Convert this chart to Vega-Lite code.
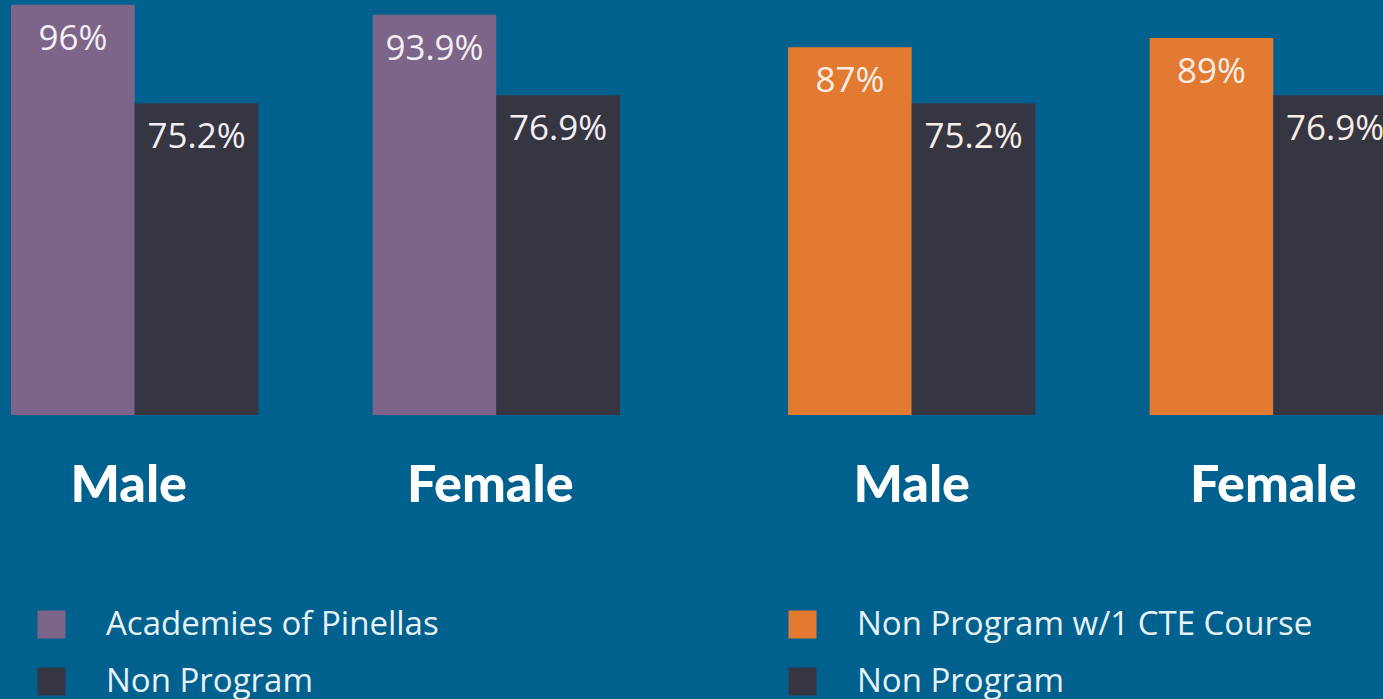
{
  "$schema": "https://vega.github.io/schema/vega-lite/v6.json",
  "background": "#00618f",
  "padding": {"left": 0, "top": 0, "right": 0, "bottom": 20},
  "spacing": 146,
  "bounds": "flush",
  "data": {"values": [
    {"panel": "A", "gender": "Male", "series": "Academies of Pinellas", "value": 96, "label": "96%"},
    {"panel": "A", "gender": "Male", "series": "Non Program", "value": 75.2, "label": "75.2%"},
    {"panel": "A", "gender": "Female", "series": "Academies of Pinellas", "value": 93.9, "label": "93.9%"},
    {"panel": "A", "gender": "Female", "series": "Non Program", "value": 76.9, "label": "76.9%"},
    {"panel": "B", "gender": "Male", "series": "Non Program w/1 CTE Course", "value": 87, "label": "87%"},
    {"panel": "B", "gender": "Male", "series": "Non Program", "value": 75.2, "label": "75.2%"},
    {"panel": "B", "gender": "Female", "series": "Non Program w/1 CTE Course", "value": 89, "label": "89%"},
    {"panel": "B", "gender": "Female", "series": "Non Program", "value": 76.9, "label": "76.9%"}
  ]},
  "hconcat": [
    {
      "width": 631,
      "height": 415,
      "transform": [{"filter": "datum.panel === 'A'"}],
      "encoding": {
        "x": {"field": "gender", "type": "nominal", "sort": ["Male", "Female"],
              "scale": {"paddingInner": 0.316, "paddingOuter": 0.0305},
              "axis": {"title": null, "ticks": false, "domain": false, "labelAngle": 0, "labelFont": "Lato", "labelFontWeight": 900, "labelFontSize": 52, "labelColor": "#ffffff", "labelPadding": 45, "labelBaseline": "top", "labelOffset": -6}},
        "xOffset": {"field": "series", "type": "nominal", "scale": {"domain": ["Academies of Pinellas", "Non Program"], "paddingInner": 0, "paddingOuter": 0}},
        "y": {"field": "value", "type": "quantitative", "scale": {"domain": [9.4, 97], "zero": false, "clamp": true, "nice": false}, "axis": null}
      },
      "layer": [
        {
          "mark": {"type": "bar"},
          "encoding": {
            "color": {"field": "series", "type": "nominal",
                      "scale": {"domain": ["Academies of Pinellas", "Non Program"], "range": ["#7d6589", "#353642"]},
                      "legend": {"title": null, "orient": "none", "legendX": 35, "legendY": 608, "symbolType": "square", "symbolSize": 784, "symbolStrokeWidth": 0, "labelFont": "Open Sans", "labelFontWeight": 400, "labelFontSize": 33, "labelColor": "#e8f1f6", "labelOffset": 38, "labelLimit": 0, "rowPadding": 23, "direction": "vertical"}}
          }
        },
        {
          "mark": {"type": "text", "baseline": "middle", "dy": 34, "font": "Open Sans", "fontWeight": 400, "fontSize": 35, "color": "#f4eef4"},
          "encoding": {"text": {"field": "label"}}
        }
      ]
    },
    {
      "width": 631,
      "height": 415,
      "transform": [{"filter": "datum.panel === 'B'"}],
      "encoding": {
        "x": {"field": "gender", "type": "nominal", "sort": ["Male", "Female"],
              "scale": {"paddingInner": 0.316, "paddingOuter": 0.0305},
              "axis": {"title": null, "ticks": false, "domain": false, "labelAngle": 0, "labelFont": "Lato", "labelFontWeight": 900, "labelFontSize": 52, "labelColor": "#ffffff", "labelPadding": 45, "labelBaseline": "top"}},
        "xOffset": {"field": "series", "type": "nominal", "scale": {"domain": ["Non Program w/1 CTE Course", "Non Program"], "paddingInner": 0, "paddingOuter": 0}},
        "y": {"field": "value", "type": "quantitative", "scale": {"domain": [9.4, 97], "zero": false, "clamp": true, "nice": false}, "axis": null}
      },
      "layer": [
        {
          "mark": {"type": "bar"},
          "encoding": {
            "color": {"field": "series", "type": "nominal",
                      "scale": {"domain": ["Non Program w/1 CTE Course", "Non Program"], "range": ["#e37a31", "#353642"]},
                      "legend": {"title": null, "orient": "none", "legendX": 9, "legendY": 608, "symbolType": "square", "symbolSize": 784, "symbolStrokeWidth": 0, "labelFont": "Open Sans", "labelFontWeight": 400, "labelFontSize": 33, "labelColor": "#e8f1f6", "labelOffset": 38, "labelLimit": 0, "rowPadding": 23, "direction": "vertical"}}
          }
        },
        {
          "mark": {"type": "text", "baseline": "middle", "dy": 34, "font": "Open Sans", "fontWeight": 400, "fontSize": 35, "color": "#f8eee6"},
          "encoding": {"text": {"field": "label"}}
        }
      ]
    }
  ],
  "resolve": {"scale": {"color": "independent", "x": "independent", "xOffset": "independent"}, "legend": {"color": "independent"}},
  "config": {"view": {"stroke": null}}
}
